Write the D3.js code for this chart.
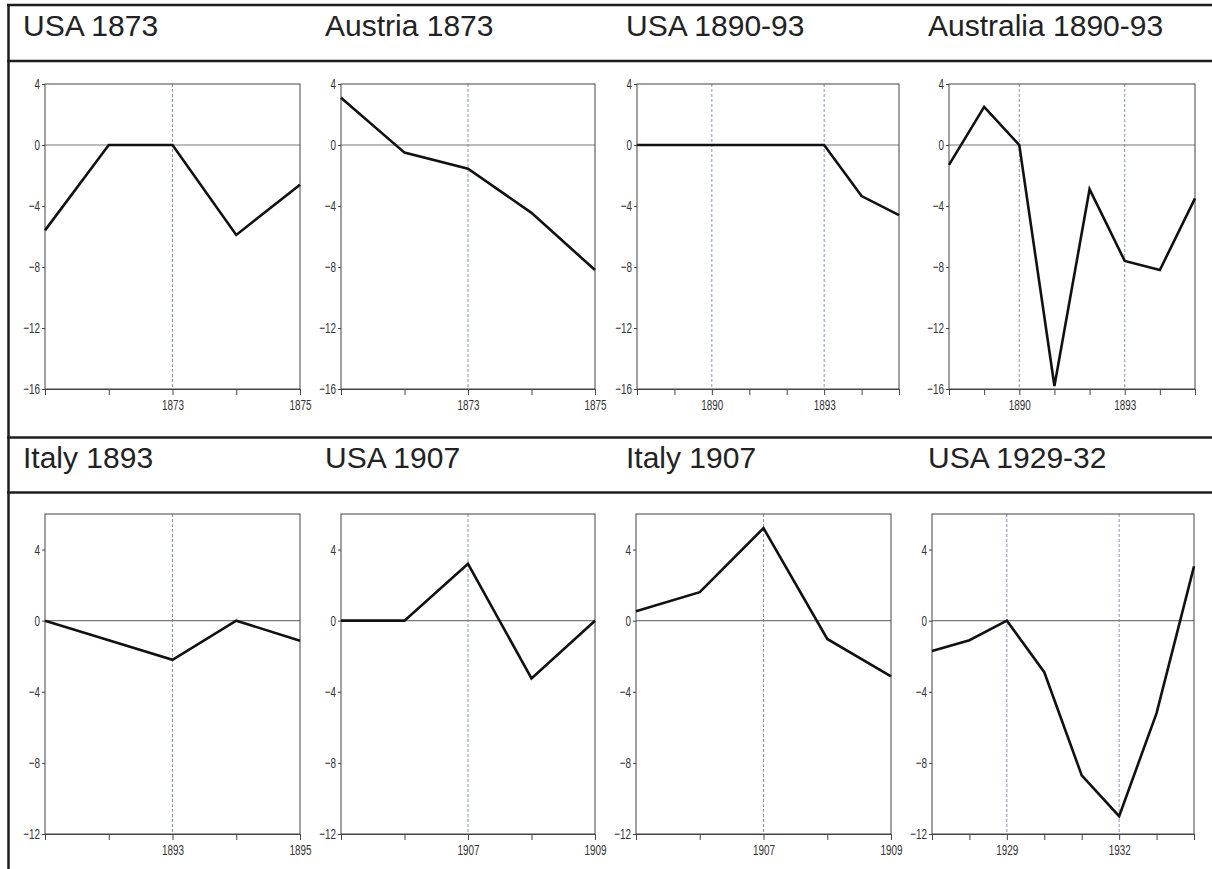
<!DOCTYPE html>
<html>
<head>
<meta charset="utf-8">
<script src="https://cdn.jsdelivr.net/npm/d3@7"></script>
<style>
  html, body { margin: 0; padding: 0; background: #fff; }
  svg { display: block; }
</style>
</head>
<body>
<svg id="chart" width="1212" height="869"></svg>
<script>
// ---------- DATA ----------
const panelTitles = ["USA 1873", "Austria 1873", "USA 1890-93", "Australia 1890-93",
                     "Italy 1893", "USA 1907", "Italy 1907", "USA 1929-32"];
const panelStartYears = [1871, 1871, 1888, 1888, 1891, 1905, 1905, 1927];
const crisisYears = [[1873], [1873], [1890, 1893], [1890, 1893], [1893], [1907], [1907], [1929, 1932]];
const labeledYears = [[1873, 1875], [1873, 1875], [1890, 1893], [1890, 1893],
                      [1893, 1895], [1907, 1909], [1907, 1909], [1929, 1932]];
const usa1873 = [-5.6, 0, 0, -5.9, -2.6];
const austria1873 = [3.1, -0.5, -1.55, -4.45, -8.2];
const usa1890 = [0, 0, 0, 0, 0, 0, -3.35, -4.6];
const australia1890 = [-1.3, 2.5, 0, -15.8, -2.9, -7.6, -8.2, -3.5];
const italy1893 = [0, -1.1, -2.2, 0, -1.13];
const usa1907 = [0, 0, 3.2, -3.25, 0];
const italy1907 = [0.53, 1.6, 5.2, -1.03, -3.13];
const usa1929 = [-1.7, -1.1, 0, -2.9, -8.7, -11.0, -5.2, 3.05];
const seriesValues = [usa1873, austria1873, usa1890, australia1890, italy1893, usa1907, italy1907, usa1929];
const yDomainRow1 = [-16, 4];
const yTicksRow1 = [-16, -12, -8, -4, 0, 4];
const yDomainRow2 = [-12, 6];
const yTicksRow2 = [-12, -8, -4, 0, 4];

// ---------- LAYOUT ----------
const svg = d3.select("#chart");
const W = 1212, H = 869;
const frameX = [[45, 300], [341, 595], [637, 899], [949, 1195],
                [45, 300], [341, 595], [636, 891], [932, 1194]];
const frameY = [[84, 389], [514, 834]];
const titleX = [23, 325, 626, 928];
const titleBaseline = [35.5, 468];
const rowLines = [5, 61, 437.5, 492.5];

// outer table lines
svg.append("g").selectAll("line").data(rowLines).join("line")
  .attr("x1", 7).attr("x2", W).attr("y1", d => d).attr("y2", d => d)
  .attr("stroke", "#1e1e1e").attr("stroke-width", 2.5);
svg.append("line").attr("x1", 8.5).attr("x2", 8.5).attr("y1", 4).attr("y2", H)
  .attr("stroke", "#1e1e1e").attr("stroke-width", 2.5);

const tickFont = "'Liberation Sans', Arial, sans-serif";

function condense(sel, factor) {
  sel.each(function () {
    const t = this.textContent;
    if (!t) return;
    const w = this.getComputedTextLength();
    d3.select(this).attr("textLength", w * factor).attr("lengthAdjust", "spacingAndGlyphs");
  });
}

panelTitles.forEach((title, i) => {
  const row = i < 4 ? 0 : 1;
  const col = i % 4;
  const vals = seriesValues[i];
  const years = vals.map((v, k) => panelStartYears[i] + k);
  const [x0, x1] = frameX[i];
  const [y0, y1] = frameY[row];
  const x = d3.scaleLinear().domain([years[0], years[years.length - 1]]).range([x0, x1]);
  const y = d3.scaleLinear().domain(row === 0 ? yDomainRow1 : yDomainRow2).range([y1, y0]);
  const yTicks = row === 0 ? yTicksRow1 : yTicksRow2;

  const g = svg.append("g");

  // title
  g.append("text").attr("x", titleX[col]).attr("y", titleBaseline[row])
    .attr("font-family", "'Liberation Sans', Arial, sans-serif")
    .attr("font-size", 30).attr("fill", "#222").text(title);

  // dashed crisis lines
  g.selectAll(".crisis").data(crisisYears[i]).join("line")
    .attr("x1", d => x(d)).attr("x2", d => x(d)).attr("y1", y0).attr("y2", y1)
    .attr("stroke", "#8a96a8").attr("stroke-width", 1).attr("stroke-dasharray", "3,2");

  // zero line
  g.append("line").attr("x1", x0).attr("x2", x1).attr("y1", y(0)).attr("y2", y(0))
    .attr("stroke", "#7a7a7a").attr("stroke-width", 1.2);

  // frame
  g.append("rect").attr("x", x0).attr("y", y0).attr("width", x1 - x0).attr("height", y1 - y0)
    .attr("fill", "none").attr("stroke", "#444").attr("stroke-width", 1);

  // y axis
  const yAxis = d3.axisLeft(y).tickValues(yTicks).tickSize(3).tickPadding(2).tickFormat(d3.format("d"));
  const ya = g.append("g").attr("transform", `translate(${x0},0)`).call(yAxis);
  ya.select(".domain").remove();
  ya.selectAll("line").attr("stroke", "#444");
  ya.selectAll("text").attr("font-family", tickFont).attr("font-size", 15).attr("fill", "#333")
    .call(condense, 0.66);

  // x axis
  const xAxis = d3.axisBottom(x).tickValues(years).tickSize(6).tickPadding(4)
    .tickFormat(d => labeledYears[i].includes(d) ? String(d) : "");
  const xa = g.append("g").attr("transform", `translate(0,${y1})`).call(xAxis);
  xa.select(".domain").attr("stroke", "#444").attr("d", `M${x0},0.5H${x1}`);
  xa.selectAll("line").attr("stroke", "#444");
  xa.selectAll("text").attr("font-family", tickFont).attr("font-size", 15).attr("fill", "#333")
    .call(condense, 0.66);

  // data line
  const line = d3.line().x((d, k) => x(years[k])).y(d => y(d));
  g.append("path").datum(vals).attr("d", line)
    .attr("fill", "none").attr("stroke", "#111").attr("stroke-width", 2.6)
    .attr("stroke-linejoin", "miter");
});
</script>
</body>
</html>
